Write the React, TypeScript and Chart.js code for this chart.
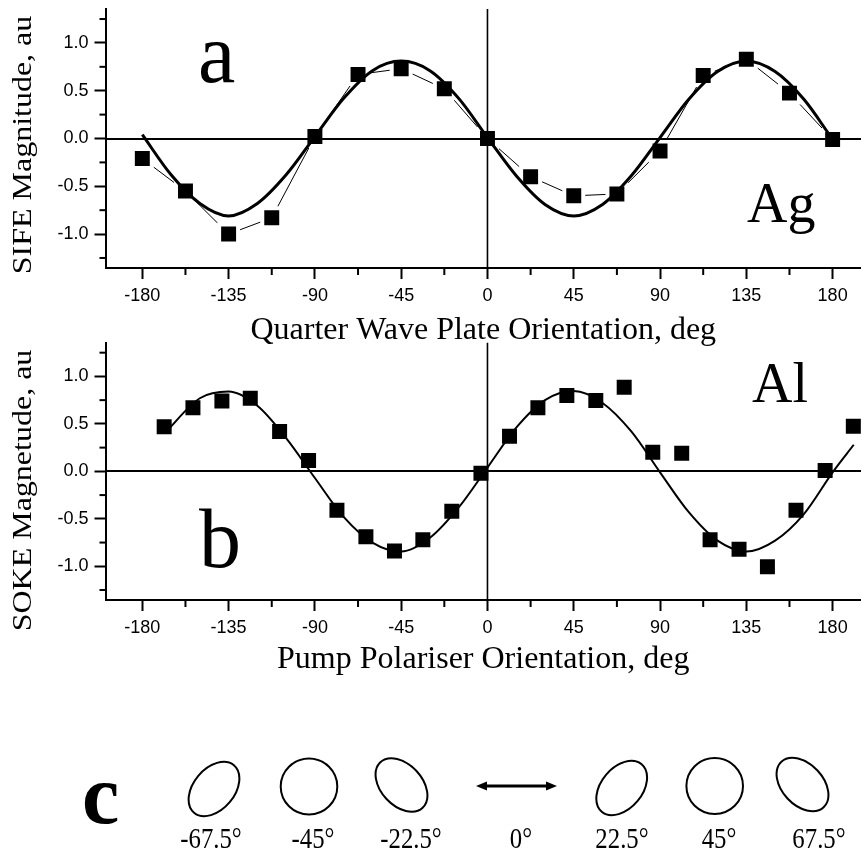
import React, { useEffect, useRef } from 'react';
import { Chart, registerables } from 'chart.js';

Chart.register(...registerables);

const SERIF = '"Liberation Serif", "Times New Roman", Times, serif';
const SANS = '"Liberation Sans", Arial, Helvetica, sans-serif';

// ---- axis ticks ----
const xTickValues = [-180, -135, -90, -45, 0, 45, 90, 135, 180];
const xMinorTickValues = [-157.5, -112.5, -67.5, -22.5, 22.5, 67.5, 112.5, 157.5];
const yTickValues = [-1.0, -0.5, 0.0, 0.5, 1.0];
const yMinorTickValues = [-1.25, -0.75, -0.25, 0.25, 0.75, 1.25];
const X_MIN = -199.2;
const X_MAX = 194.8;
const Y_MIN = -1.355;
const Y_MAX = 1.355;

// ---- panel a : SIFE, Ag ----
const sifeAngles = [-180, -157.5, -135, -112.5, -90, -67.5, -45, -22.5, 0, 22.5, 45, 67.5, 90, 112.5, 135, 157.5, 180];
const sifeMagnitude = [-0.21, -0.55, -1.0, -0.83, 0.02, 0.67, 0.73, 0.52, 0.0, -0.4, -0.6, -0.58, -0.13, 0.66, 0.83, 0.475, -0.01];
const sifeFitAngles = [-180, -165, -150, -135, -120, -105, -90, -75, -60, -45, -30, -15, 0, 15, 30, 45, 60, 75, 90, 105, 120, 135, 150, 165, 179];
const sifeFitMagnitude = [0.04, -0.38, -0.68, -0.81, -0.68, -0.38, 0.02, 0.42, 0.71, 0.81, 0.71, 0.42, 0.01, -0.39, -0.69, -0.81, -0.69, -0.39, 0.01, 0.41, 0.7, 0.81, 0.7, 0.41, 0.02];

// ---- panel b : SOKE, Al ----
const sokeAngles = [-168.6, -153.6, -138.5, -123.7, -108.4, -93.3, -78.5, -63.4, -48.5, -33.7, -18.6, -3.4, 11.5, 26.3, 41.4, 56.5, 71.3, 86.2, 101.3, 116.1, 131.2, 146, 160.9, 176.1, 190.8];
const sokeMagnitude = [0.47, 0.67, 0.74, 0.77, 0.42, 0.115, -0.41, -0.69, -0.84, -0.72, -0.42, -0.02, 0.37, 0.67, 0.8, 0.745, 0.885, 0.2, 0.19, -0.72, -0.82, -1.005, -0.41, 0.01, 0.475];
const sokeFitAngles = [-168, -150, -135, -120, -105, -90, -75, -60, -45, -30, -15, 0, 15, 30, 45, 60, 75, 90, 105, 120, 135, 150, 165, 180, 191];
const sokeFitMagnitude = [0.41, 0.77, 0.84, 0.69, 0.35, -0.07, -0.48, -0.75, -0.845, -0.7, -0.38, 0.04, 0.46, 0.75, 0.845, 0.72, 0.42, -0.01, -0.43, -0.73, -0.845, -0.73, -0.45, -0.01, 0.28];

// ---- panel c : polarisation states ----
const polarisationAngles = [-67.5, -45, -22.5, 0, 22.5, 45, 67.5];

const zip = (xs: number[], ys: number[]) => xs.map((x, i) => ({ x, y: ys[i] }));

const decorPlugin = {
  id: 'decor',
  afterDatasetsDraw(chart: any) {
    const { ctx, chartArea, scales } = chart;
    const xs = scales.x;
    const ys = scales.y;
    ctx.save();
    ctx.strokeStyle = '#000';
    ctx.lineWidth = 2;
    const y0 = Math.round(ys.getPixelForValue(0));
    ctx.beginPath();
    ctx.moveTo(chartArea.left, y0);
    ctx.lineTo(chartArea.right, y0);
    ctx.stroke();
    ctx.lineWidth = 1.6;
    const x0 = xs.getPixelForValue(0);
    ctx.beginPath();
    ctx.moveTo(x0, chartArea.top);
    ctx.lineTo(x0, chartArea.bottom);
    ctx.stroke();
    ctx.restore();
  },
  afterDraw(chart: any, _args: any, o: any) {
    const { ctx, chartArea, scales } = chart;
    const xs = scales.x;
    const ys = scales.y;
    ctx.save();
    ctx.strokeStyle = '#000';
    ctx.lineWidth = 2;
    xMinorTickValues.forEach((v) => {
      const px = xs.getPixelForValue(v);
      ctx.beginPath();
      ctx.moveTo(px, chartArea.bottom);
      ctx.lineTo(px, chartArea.bottom + 7);
      ctx.stroke();
    });
    yMinorTickValues.forEach((v) => {
      const py = ys.getPixelForValue(v);
      ctx.beginPath();
      ctx.moveTo(chartArea.left - 6, py);
      ctx.lineTo(chartArea.left, py);
      ctx.stroke();
    });
    ctx.fillStyle = '#000';
    // y title
    ctx.save();
    ctx.translate(o.yTitleX, o.yTitleY);
    ctx.rotate(-Math.PI / 2);
    ctx.scale(1, 0.86);
    ctx.font = `32px ${SERIF}`;
    ctx.textAlign = 'center';
    ctx.textBaseline = 'middle';
    ctx.fillText(o.yTitle, 0, 0);
    ctx.restore();
    // panel letter and material tag
    ctx.textAlign = 'left';
    ctx.textBaseline = 'alphabetic';
    ctx.font = `${o.letterSize}px ${SERIF}`;
    ctx.fillText(o.letter, o.letterX, o.letterY);
    ctx.font = `${o.tagSize}px ${SERIF}`;
    ctx.fillText(o.tag, o.tagX, o.tagY);
    ctx.restore();
  },
};

type PanelSpec = {
  top: number;
  height: number;
  padTop: number;
  plotBottom: number;
  xTitle: string;
  xTitlePad: number;
  datasets: any[];
  decor: any;
};

function buildConfig(spec: PanelSpec): any {
  const tickFont = { family: SANS, size: 18, lineHeight: 1 };
  const grid = {
    display: true,
    drawOnChartArea: false,
    drawTicks: true,
    tickLength: 11,
    tickWidth: 2,
    tickColor: '#000',
    color: '#000',
  };
  const border = { display: true, color: '#000', width: 2 };
  return {
    type: 'scatter',
    data: { datasets: spec.datasets },
    plugins: [decorPlugin],
    options: {
      responsive: false,
      maintainAspectRatio: false,
      animation: false,
      devicePixelRatio: 1,
      events: [],
      layout: { autoPadding: false, padding: { top: spec.padTop, left: 0, right: 0, bottom: 0 } },
      plugins: {
        legend: { display: false },
        tooltip: { enabled: false },
        decor: spec.decor,
      },
      scales: {
        x: {
          type: 'linear',
          position: 'bottom',
          min: X_MIN,
          max: X_MAX,
          afterBuildTicks: (s: any) => {
            s.ticks = xTickValues.map((v) => ({ value: v }));
          },
          afterFit: (s: any) => {
            s.height = spec.height - spec.plotBottom;
            s.paddingLeft = 0;
            s.paddingRight = 0;
          },
          grid,
          border,
          ticks: {
            color: '#000',
            font: tickFont,
            padding: 8,
            autoSkip: false,
            maxRotation: 0,
            minRotation: 0,
            callback: (v: any) => String(v),
          },
          title: {
            display: true,
            text: spec.xTitle,
            color: '#000',
            font: { family: SERIF, size: 32, lineHeight: 1 },
            padding: { top: 0, bottom: spec.xTitlePad },
          },
        },
        y: {
          type: 'linear',
          position: 'left',
          min: Y_MIN,
          max: Y_MAX,
          afterBuildTicks: (s: any) => {
            s.ticks = yTickValues.map((v) => ({ value: v }));
          },
          afterFit: (s: any) => {
            s.width = 105.5;
            s.paddingTop = 0;
            s.paddingBottom = 0;
          },
          grid,
          border,
          ticks: {
            color: '#000',
            font: tickFont,
            padding: 6,
            autoSkip: false,
            callback: (v: any) => Number(v).toFixed(1),
          },
        },
      },
    },
  };
}

function ChartPanel({ spec }: { spec: PanelSpec }) {
  const ref = useRef<HTMLCanvasElement>(null);
  useEffect(() => {
    const chart = new Chart(ref.current as HTMLCanvasElement, buildConfig(spec));
    return () => chart.destroy();
  }, []);
  return (
    <canvas
      ref={ref}
      width={861}
      height={spec.height}
      style={{ position: 'absolute', left: 0, top: spec.top, width: 861, height: spec.height }}
    />
  );
}

const specA: PanelSpec = {
  top: 0,
  height: 350,
  padTop: 9,
  plotBottom: 268,
  xTitle: 'Quarter Wave Plate Orientation, deg',
  xTitlePad: 3.8,
  datasets: [
    {
      label: 'fit',
      data: zip(sifeFitAngles, sifeFitMagnitude),
      showLine: true,
      borderColor: '#000',
      borderWidth: 3,
      pointRadius: 0,
      cubicInterpolationMode: 'monotone',
      fill: false,
    },
    {
      label: 'SIFE',
      data: zip(sifeAngles, sifeMagnitude),
      showLine: true,
      borderColor: '#000',
      borderWidth: 1,
      pointStyle: 'rect',
      pointRadius: 13.4,
      pointBorderWidth: 4,
      pointBorderColor: '#fff',
      pointBackgroundColor: '#000',
      fill: false,
    },
  ],
  decor: {
    yTitle: 'SIFE Magnitude, au',
    yTitleX: 24,
    yTitleY: 145,
    letter: 'a',
    letterSize: 84,
    letterX: 198,
    letterY: 82,
    tag: 'Ag',
    tagSize: 56,
    tagX: 747,
    tagY: 222,
  },
};

const specB: PanelSpec = {
  top: 330,
  height: 350,
  padTop: 12.7,
  plotBottom: 270,
  xTitle: 'Pump Polariser Orientation, deg',
  xTitlePad: 4.1,
  datasets: [
    {
      label: 'fit',
      data: zip(sokeFitAngles, sokeFitMagnitude),
      showLine: true,
      borderColor: '#000',
      borderWidth: 2,
      pointRadius: 0,
      cubicInterpolationMode: 'monotone',
      fill: false,
    },
    {
      label: 'SOKE',
      data: zip(sokeAngles, sokeMagnitude),
      showLine: false,
      pointStyle: 'rect',
      pointRadius: 10.6,
      pointBorderWidth: 0,
      pointBackgroundColor: '#000',
    },
  ],
  decor: {
    yTitle: 'SOKE Magnetude, au',
    yTitleX: 24,
    yTitleY: 160.5,
    letter: 'b',
    letterSize: 84,
    letterX: 199,
    letterY: 237,
    tag: 'Al',
    tagSize: 56,
    tagX: 752,
    tagY: 72,
  },
};

// layout of the schematic polarisation states (one per angle)
const stateLayout = [
  { cx: 214, cy: 789, labelX: 211 },
  { cx: 309, cy: 786.5, labelX: 313 },
  { cx: 401.5, cy: 785, labelX: 411 },
  { cx: 516, cy: 786, labelX: 521 },
  { cx: 621.7, cy: 788, labelX: 622 },
  { cx: 714.7, cy: 786, labelX: 719 },
  { cx: 802.5, cy: 784.5, labelX: 819 },
];

function StateGlyph({ angle, cx, cy }: { angle: number; cx: number; cy: number }) {
  if (angle === 0) {
    const x1 = cx - 40;
    const x2 = cx + 41;
    return (
      <g>
        <line x1={x1 + 6} y1={cy} x2={x2 - 6} y2={cy} stroke="#000" strokeWidth={3.2} />
        <polygon points={`${x1},${cy} ${x1 + 11},${cy - 4.5} ${x1 + 11},${cy + 4.5}`} fill="#000" />
        <polygon points={`${x2},${cy} ${x2 - 11},${cy - 4.5} ${x2 - 11},${cy + 4.5}`} fill="#000" />
      </g>
    );
  }
  if (Math.abs(angle) === 45) {
    return <ellipse cx={cx} cy={cy} rx={28.3} ry={28} fill="none" stroke="#000" strokeWidth={2} />;
  }
  const tilt = angle === -67.5 || angle === 22.5 ? -50 : 47;
  return (
    <ellipse
      cx={0}
      cy={0}
      rx={31}
      ry={20.5}
      transform={`translate(${cx},${cy}) rotate(${tilt})`}
      fill="none"
      stroke="#000"
      strokeWidth={2}
    />
  );
}

function StatesPanel() {
  return (
    <svg
      width={861}
      height={854}
      style={{ position: 'absolute', left: 0, top: 0, pointerEvents: 'none' }}
    >
      <text x={82} y={823} fontFamily={SERIF} fontWeight="bold" fontSize={84} fill="#000">
        c
      </text>
      {polarisationAngles.map((a, i) => {
        const l = stateLayout[i];
        return (
          <g key={i}>
            <StateGlyph angle={a} cx={l.cx} cy={l.cy} />
            <text
              transform={`translate(${l.labelX},848) scale(0.84,1)`}
              textAnchor="middle"
              fontFamily={SERIF}
              fontSize={29.5}
              fill="#000"
            >
              {`${a}°`}
            </text>
          </g>
        );
      })}
    </svg>
  );
}

export default function App() {
  return (
    <div
      style={{
        position: 'absolute',
        left: 0,
        top: 0,
        width: 861,
        height: 854,
        background: '#fff',
        overflow: 'hidden',
      }}
    >
      <ChartPanel spec={specA} />
      <ChartPanel spec={specB} />
      <StatesPanel />
    </div>
  );
}
